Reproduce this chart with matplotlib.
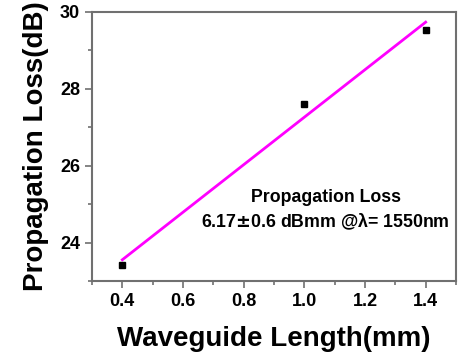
import matplotlib.pyplot as plt
import numpy as np
from matplotlib.ticker import MultipleLocator

plt.rcParams['font.family'] = ['Liberation Sans', 'DejaVu Sans']
plt.rcParams['font.weight'] = 'bold'

length_mm = [0.4, 1.0, 1.4]
loss_db = [23.41, 27.61, 29.51]

slope, intercept = np.polyfit(length_mm, loss_db, 1)
fit_x = np.array([length_mm[0], length_mm[-1]])
fit_y = slope * fit_x + intercept

fig = plt.figure(figsize=(4.59, 3.6), dpi=100)
ax = fig.add_axes([92 / 459, 1 - 281 / 360, (456 - 92) / 459, (281 - 11.5) / 360])

ax.plot(fit_x, fit_y, color='#ff00ff', lw=2)
ax.plot(length_mm, loss_db, 's', color='black', ms=5)

ax.set_xlim(0.3, 1.5)
ax.set_ylim(23, 30)
ax.xaxis.set_major_locator(MultipleLocator(0.2))
ax.xaxis.set_minor_locator(MultipleLocator(0.1))
ax.yaxis.set_major_locator(MultipleLocator(2))
ax.yaxis.set_minor_locator(MultipleLocator(1))

for s in ax.spines.values():
    s.set_color('#707070')
    s.set_linewidth(1.5)
ax.tick_params(which='both', direction='out', color='#707070', width=1.2, labelsize=13)
ax.tick_params(which='major', length=5)
ax.tick_params(which='minor', length=3)
ax.set_xticks([0.4, 0.6, 0.8, 1.0, 1.2, 1.4])

ax.set_xlabel('Waveguide Length(mm)', fontsize=20, fontweight='bold', labelpad=12)
ax.set_ylabel('Propagation Loss(dB)', fontsize=20, fontweight='bold', labelpad=8)

ax.text(1.07, 25.18, 'Propagation Loss', ha='center', va='center', fontsize=12.8, fontweight='bold')
ax.text(1.07, 24.55, '6.17$\\mathbf{\\pm}$0.6 dBmm @\u03bb= 1550nm', ha='center', va='center',
        fontsize=12.8, fontweight='bold')

fig.savefig('out.png', dpi=100)
